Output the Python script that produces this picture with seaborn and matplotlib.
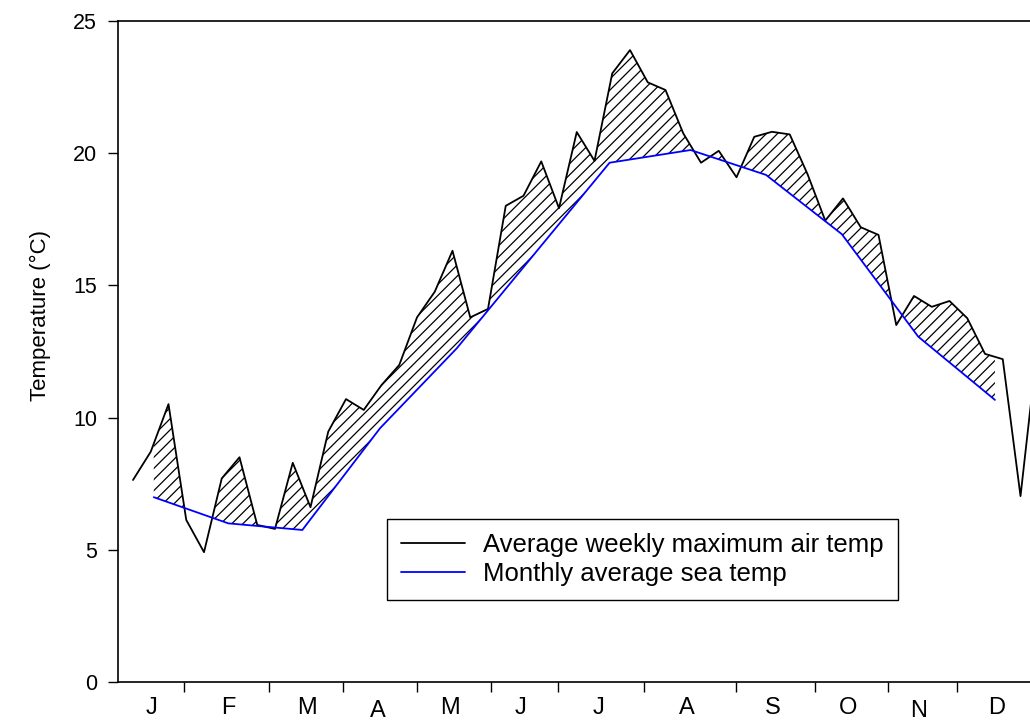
import numpy as np
import pandas as pd
import seaborn as sns
import matplotlib.pyplot as plt

# weekly maximum air temperature (week 1..52)
air_week = list(range(1, 53))
air_temp = [7.64, 8.71, 10.51, 6.13, 4.91, 7.70, 8.50, 5.94, 5.79, 8.29,
            6.61, 9.47, 10.70, 10.29, 11.23, 11.99, 13.79, 14.76, 16.31, 13.79,
            14.11, 18.01, 18.39, 19.69, 17.92, 20.80, 19.71, 23.02, 23.90, 22.68,
            22.39, 20.75, 19.64, 20.09, 19.09, 20.62, 20.81, 20.71, 19.21, 17.45,
            18.29, 17.20, 16.91, 13.50, 14.60, 14.19, 14.41, 13.76, 12.41, 12.21,
            7.03, 13.0]

# monthly average sea temperature (mid-month, in weeks)
sea_week = [2.17, 6.37, 10.54, 14.92, 19.24, 23.48, 27.85, 32.41, 36.66, 40.93, 45.24, 49.56]
sea_temp = [6.99, 6.00, 5.75, 9.60, 12.62, 16.08, 19.64, 20.12, 19.18, 16.94, 13.06, 10.67]

month_labels = ['J', 'F', 'M', 'A', 'M', 'J', 'J', 'A', 'S', 'O', 'N', 'D']
label_week = [2.05, 6.37, 10.79, 14.82, 18.86, 22.84, 27.21, 32.19, 37.07, 41.30, 45.24, 49.66]
label_low = [False, False, False, True, False, False, False, False, False, False, True, False]
tick_week = [3.87, 8.66, 12.81, 16.98, 21.15, 24.94, 29.81, 34.97, 39.42, 43.55, 47.44]

air = pd.DataFrame({'week': air_week, 'temp': air_temp})
sea = pd.DataFrame({'week': sea_week, 'temp': sea_temp})

sns.set_style('ticks')
plt.rcParams['font.family'] = ['Liberation Sans', 'DejaVu Sans']
plt.rcParams['hatch.linewidth'] = 0.9
for k in ['text.color', 'axes.labelcolor', 'xtick.color', 'ytick.color']:
    plt.rcParams[k] = 'black'

fig = plt.figure(figsize=(10.3, 7.22), dpi=100)
ax = fig.add_axes([118 / 1030, 40 / 722, 912 / 1030, 661 / 722])

# hatched area where air is warmer than the sea
xs = np.union1d(np.linspace(sea_week[0], sea_week[-1], 3000), air_week)
xs = xs[(xs >= sea_week[0]) & (xs <= sea_week[-1])]
a_i = np.interp(xs, air_week, air_temp)
s_i = np.interp(xs, sea_week, sea_temp)
ax.fill_between(xs, a_i, s_i, where=a_i >= s_i, interpolate=True,
                facecolor='none', edgecolor='black', hatch='///', linewidth=0)

sns.lineplot(data=air, x='week', y='temp', color='black', lw=1.3, ax=ax,
             label='Average weekly maximum air temp')
sns.lineplot(data=sea, x='week', y='temp', color='#0000ff', lw=1.3, ax=ax,
             label='Monthly average sea temp')

ax.set_xlim(0.155, 51.535)
ax.set_ylim(0, 25)
ax.set_yticks([0, 5, 10, 15, 20, 25])
ax.set_xticks(tick_week)
ax.set_xticklabels([])
ax.tick_params(axis='both', direction='out', length=7, width=1, colors='black')
ax.tick_params(axis='y', labelsize=15.5, pad=8)
for sp in ['left', 'bottom', 'top']:
    ax.spines[sp].set_visible(True)
    ax.spines[sp].set_linewidth(1.2)
    ax.spines[sp].set_color('black')
ax.spines['right'].set_visible(False)

for w, lab, low in zip(label_week, month_labels, label_low):
    ax.text(w, -0.0445 if low else -0.039, lab, transform=ax.get_xaxis_transform(),
            ha='center', va='center', fontsize=17, color='black')

ax.set_xlabel('')
ax.set_ylabel('Temperature (°C)', fontsize=16)
ax.yaxis.set_label_coords(-0.073, 0.555)

leg = ax.legend(loc='lower left', bbox_to_anchor=(0.295, 0.124), borderaxespad=0,
                fontsize=18.5, frameon=True, fancybox=False, handlelength=2.5,
                handletextpad=0.7, borderpad=0.55, labelspacing=0.2)
leg.get_frame().set_edgecolor('black')
leg.get_frame().set_linewidth(1.0)
leg.get_frame().set_alpha(1)

plt.savefig('out.png', dpi=100)
